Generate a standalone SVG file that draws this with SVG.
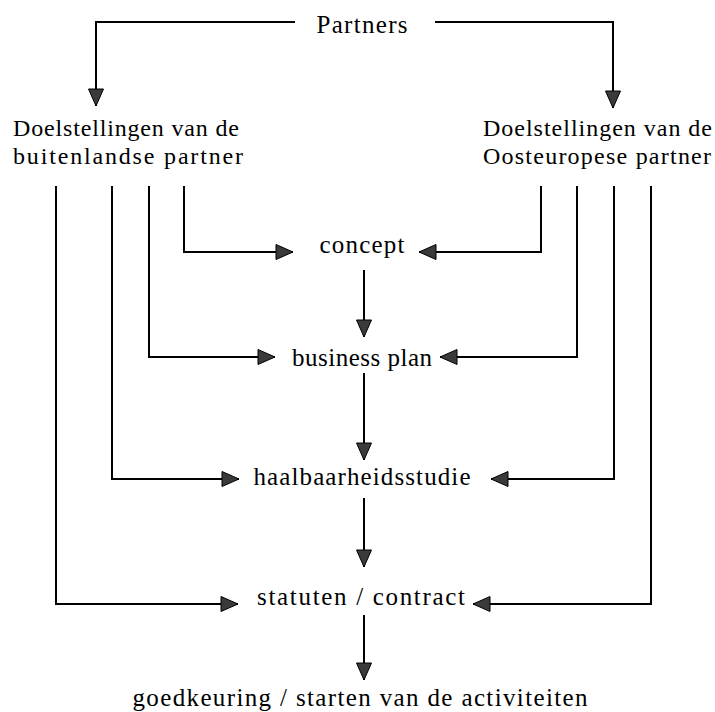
<svg xmlns="http://www.w3.org/2000/svg" width="715" height="712" viewBox="0 0 715 712">
  <style>
    text { font-family: "Liberation Serif", "Times New Roman", serif; font-size: 25px; fill: #000; }
    .c { text-anchor: middle; }
    .two { font-size: 24px; }
    .ln { fill: none; stroke: #000; stroke-width: 2; marker-end: url(#ah); }
  </style>
  <defs>
    <marker id="ah" markerUnits="userSpaceOnUse" markerWidth="18" markerHeight="16" refX="17" refY="7.5" orient="auto" overflow="visible">
      <path d="M0,0 L17,7.5 L0,15 Z" fill="#3a3a3a" stroke="#000" stroke-width="1"/>
    </marker>
  </defs>
  <rect width="715" height="712" fill="#fff"/>

  <g id="connectors">
    <path class="ln" d="M295,22 H96 V106"/>
    <path class="ln" d="M435,22 H613 V108"/>
    <path class="ln" d="M184,186 V252 H293"/>
    <path class="ln" d="M541,186 V252 H419"/>
    <path class="ln" d="M149,186 V357 H275"/>
    <path class="ln" d="M577,186 V357 H440"/>
    <path class="ln" d="M112,186 V479 H239"/>
    <path class="ln" d="M614,186 V479 H491"/>
    <path class="ln" d="M56,186 V604 H238"/>
    <path class="ln" d="M651,186 V604 H473"/>
    <path class="ln" d="M364,270 V337"/>
    <path class="ln" d="M364,373 V460"/>
    <path class="ln" d="M364,498 V567"/>
    <path class="ln" d="M364,615 V680"/>
  </g>

  <g id="partners"><text class="c" x="362" y="33" textLength="91" lengthAdjust="spacing">Partners</text></g>
  <g id="doel-buitenlands">
    <text class="two" x="13" y="136" textLength="226" lengthAdjust="spacing">Doelstellingen van de</text>
    <text class="two" x="13" y="164" textLength="230" lengthAdjust="spacing">buitenlandse partner</text>
  </g>
  <g id="doel-oosteuropees">
    <text class="two" x="483" y="136" textLength="229" lengthAdjust="spacing">Doelstellingen van de</text>
    <text class="two" x="483" y="164" textLength="228" lengthAdjust="spacing">Oosteuropese partner</text>
  </g>
  <g id="concept"><text class="c" x="362" y="253" textLength="85" lengthAdjust="spacing">concept</text></g>
  <g id="business-plan"><text class="c" x="362" y="366" textLength="140" lengthAdjust="spacing">business plan</text></g>
  <g id="haalbaarheidsstudie"><text class="c" x="362" y="485" textLength="217" lengthAdjust="spacing">haalbaarheidsstudie</text></g>
  <g id="statuten"><text class="c" x="361" y="605" textLength="208" lengthAdjust="spacing">statuten / contract</text></g>
  <g id="goedkeuring"><text class="c" x="360" y="706" textLength="455" lengthAdjust="spacing">goedkeuring / starten van de activiteiten</text></g>
</svg>
